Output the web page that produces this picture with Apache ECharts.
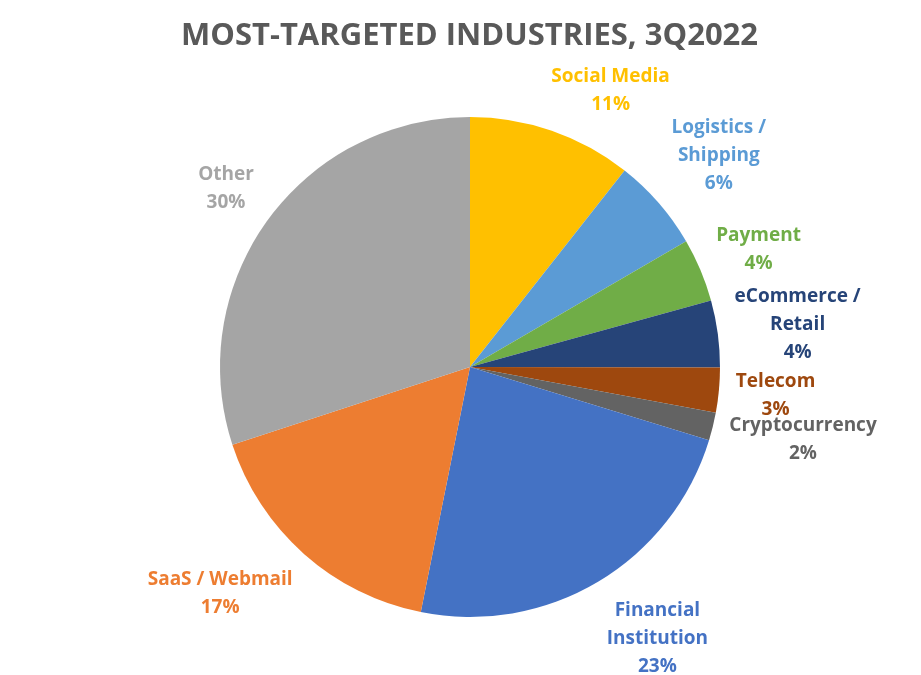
<!DOCTYPE html>
<html>
<head>
<meta charset="utf-8">
<script src="https://cdn.jsdelivr.net/npm/echarts@6/dist/echarts.min.js"></script>
<style>
  html, body { margin: 0; padding: 0; background: #fff; }
  #main { width: 921px; height: 675px; }
</style>
</head>
<body>
<div id="main"></div>
<script>
  // industries, clockwise from 12 o'clock
  var industries = ['Social Media', 'Logistics /\nShipping', 'Payment', 'eCommerce /\nRetail',
    'Telecom', 'Cryptocurrency', 'Financial\nInstitution', 'SaaS / Webmail', 'Other'];
  // share of attacks (%)
  var shares = [10.6, 6.0, 4.1, 4.3, 2.9, 1.8, 23.4, 16.8, 30.0];
  var colors = ['#FFC000', '#5B9BD5', '#70AD47', '#264478', '#9E480E', '#636363', '#4472C4', '#ED7D31', '#A5A5A5'];

  var chart = echarts.init(document.getElementById('main'));

  var center = [470, 367];
  var radius = 250;
  var labelDist = 267;    // distance from centre to the label's anchor point
  var labelMinTop = 62;   // keep labels below the title

  var total = shares.reduce(function (a, b) { return a + b; }, 0);

  var data = industries.map(function (name, i) {
    return {
      name: name,
      value: shares[i],
      itemStyle: { color: colors[i] },
      label: { color: colors[i] }
    };
  });

  function clamp1(v) { return Math.max(-1, Math.min(1, v)); }

  // Excel-like "outside end": the side of the label facing the pie sits on the slice's mid ray
  function placeLabel(angle, w, h) {
    var ux = Math.sin(angle), uy = -Math.cos(angle);
    var px = center[0] + labelDist * ux, py = center[1] + labelDist * uy;
    return {
      x: px + clamp1(2 * ux) * w / 2,
      y: py + clamp1(1.3 * uy) * h / 2
    };
  }

  chart.setOption({
    animation: false,
    title: {
      text: 'MOST-TARGETED INDUSTRIES, 3Q2022',
      left: 176,
      top: 16,
      textStyle: {
        fontFamily: 'Open Sans',
        fontWeight: 'bold',
        fontSize: 31,
        color: '#595959'
      }
    },
    series: [
      {
        type: 'pie',
        center: center,
        radius: radius,
        startAngle: 90,
        clockwise: true,
        data: data,
        emphasis: { disabled: true },
        label: {
          show: true,
          position: 'outside',
          fontFamily: 'Open Sans',
          fontWeight: 'bold',
          fontSize: 19,
          lineHeight: 28,
          formatter: function (p) {
            return p.name + '\n' + Math.round(p.percent) + '%';
          }
        },
        labelLine: { show: false },
        labelLayout: function (params) {
          var i = params.dataIndex;
          var before = 0;
          for (var k = 0; k < i; k++) before += shares[k];
          var angle = (before + shares[i] / 2) / total * Math.PI * 2;
          var w = params.labelRect.width, h = params.labelRect.height;
          var p = placeLabel(angle, w, h);
          while (p.y - h / 2 < labelMinTop) {
            angle += 0.005;
            p = placeLabel(angle, w, h);
          }
          return { x: p.x, y: p.y, align: 'center', verticalAlign: 'middle' };
        }
      }
    ]
  });
</script>
</body>
</html>
